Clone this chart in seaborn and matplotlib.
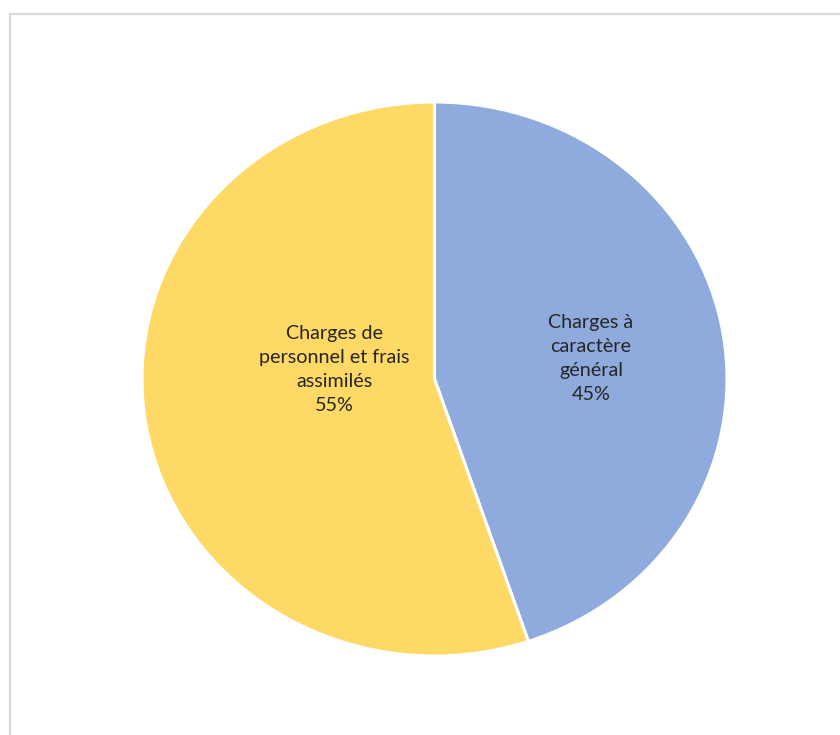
import matplotlib
matplotlib.use("Agg")
import matplotlib.pyplot as plt
import seaborn as sns
from matplotlib.patches import Rectangle

sns.set_theme(style="white")
plt.rcParams['font.family'] = ['Lato', 'DejaVu Sans']

categories = ["Charges à\ncaractère\ngénéral", "Charges de\npersonnel et frais\nassimilés"]
values = [44.8, 55.2]
pct_labels = ["45%", "55%"]
colors = ["#8FAADC", "#FFD966"]

W, H = 840, 735
fig = plt.figure(figsize=(W / 100, H / 100), dpi=100)
fig.patch.set_facecolor("white")

# pie area in pixels: x 142..727, y 102..656
left, right, top, bottom = 142, 727, 102, 656
ax = fig.add_axes([left / W, (H - bottom) / H, (right - left) / W, (bottom - top) / H])

wedges, _ = ax.pie(values, colors=colors, startangle=90, counterclock=False,
                   wedgeprops=dict(edgecolor="white", linewidth=2.2))
ax.set_aspect("auto")
ax.set_xlim(-1, 1)
ax.set_ylim(-1, 1)
ax.axis("off")

# label positions (axes data units)
label_pos = [(0.535, 0.075), (-0.342, 0.036)]
for cat, pct, (x, y) in zip(categories, pct_labels, label_pos):
    ax.text(x, y, f"{cat}\n{pct}", ha="center", va="center", fontsize=14.2,
            color="#262626", linespacing=1.5)

# chart frame
fig.patches.append(Rectangle((10 / W, -0.1), 1.2, (H - 14) / H + 0.1,
                             transform=fig.transFigure, fill=False,
                             edgecolor="#d9d9d9", linewidth=1.6))

fig.savefig("out.png", dpi=100, facecolor="white")
